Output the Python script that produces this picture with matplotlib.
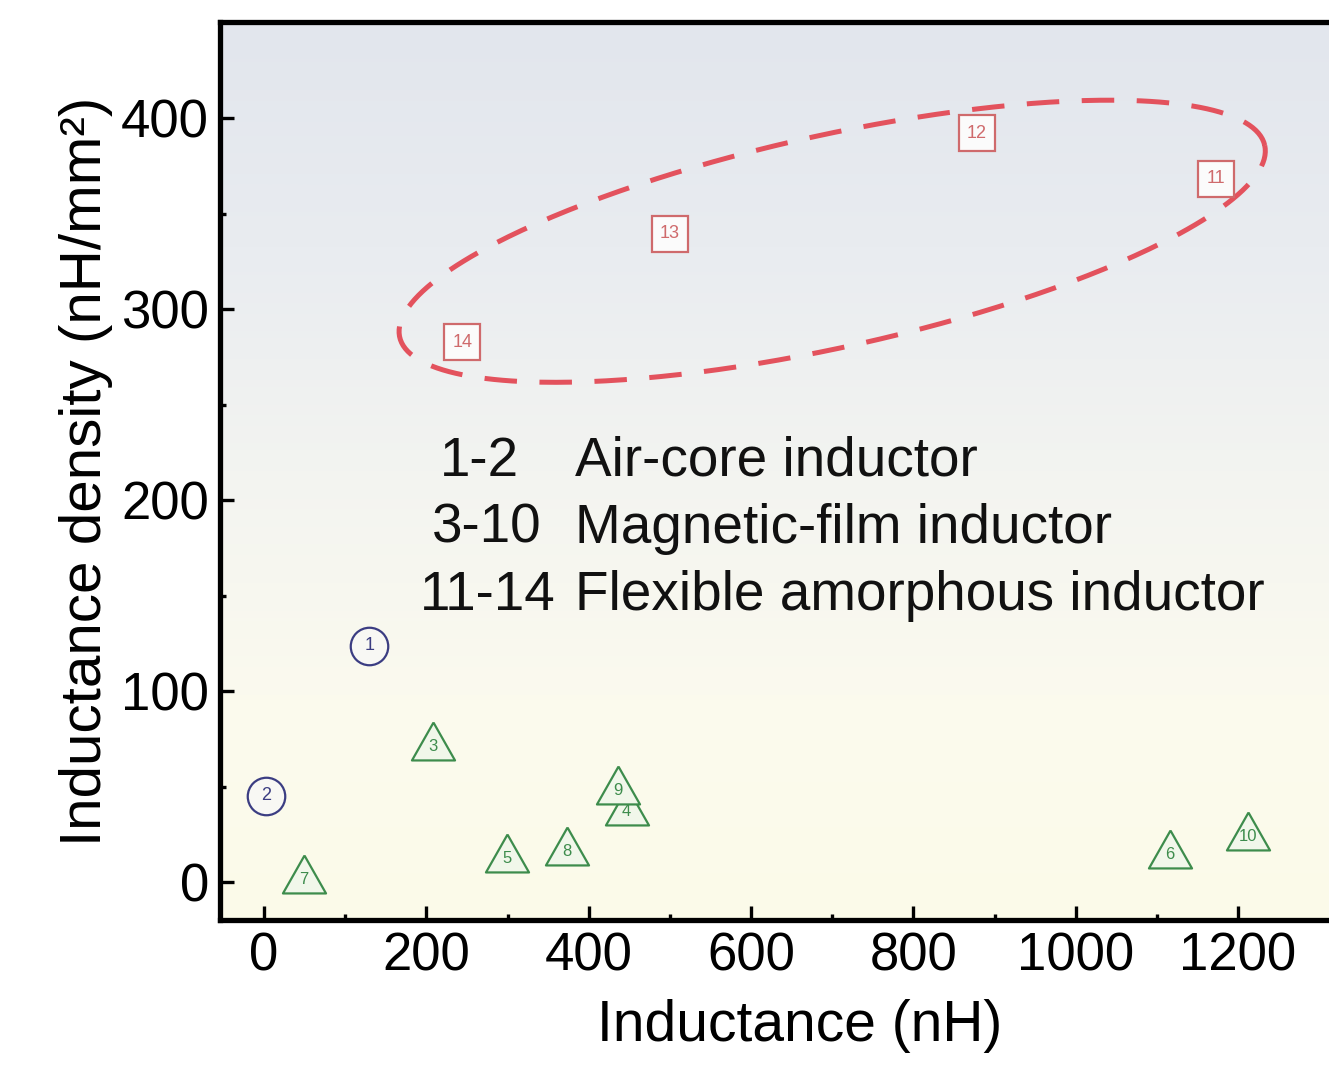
import numpy as np
import matplotlib
matplotlib.use("Agg")
import matplotlib.pyplot as plt
from matplotlib.colors import LinearSegmentedColormap

# ---------------- data ----------------
air_ids = ["1", "2"]
air_L = [129.6, 2.7]
air_D = [123.8, 45.1]

mag_ids = ["3", "4", "5", "6", "7", "8", "9", "10"]
mag_L = [207.6, 446.8, 299.8, 1116.0, 49.3, 372.9, 436.5, 1211.8]
mag_D = [73.6, 40.0, 15.3, 17.3, 4.2, 18.8, 50.8, 26.5]

flex_ids = ["11", "12", "13", "14"]
flex_L = [1172.4, 878.4, 500.2, 244.5]
flex_D = [368.2, 392.1, 339.4, 282.5]

legend_ranges = ["1-2", "3-10", "11-14"]
legend_names = ["Air-core inductor", "Magnetic-film inductor", "Flexible amorphous inductor"]

x_ticks = [0, 200, 400, 600, 800, 1000, 1200]
y_ticks = [0, 100, 200, 300, 400]

# ---------------- style ----------------
plt.rcParams["font.family"] = ["Liberation Sans", "DejaVu Sans"]
FIG_W, FIG_H, DPI = 1329, 1072, 100

fig = plt.figure(figsize=(FIG_W / DPI, FIG_H / DPI), dpi=DPI)
fig.patch.set_facecolor("white")

ax_left, ax_right, ax_bottom, ax_top = 220, 1340, 920, 22
ax = fig.add_axes([ax_left / FIG_W, (FIG_H - ax_bottom) / FIG_H,
                   (ax_right - ax_left) / FIG_W, (ax_bottom - ax_top) / FIG_H])
ax.set_xlim(-54.2, 1325.6)
ax.set_ylim(-19.9, 450.3)

# background gradient
cmap = LinearSegmentedColormap.from_list(
    "bg", [(0.0, "#fcfbe9"), (0.25, "#fbfaee"), (0.5, "#f3f4f1"), (0.75, "#e9ecf0"), (1.0, "#e2e6ed")])
grad = np.linspace(0, 1, 256).reshape(-1, 1)
ax.imshow(grad, extent=[0, 1, 0, 1], transform=ax.transAxes, origin="lower",
          aspect="auto", cmap=cmap, zorder=0, interpolation="bicubic")

# dashed ellipse around flexible inductors (defined in screen-like space, mapped to data units)
sx = (1238 - 264) / 1200.0   # px per nH
sy = (882 - 118) / 400.0     # px per nH/mm2
ell_cx, ell_cy = 700.0, 335.5
ell_a, ell_b, ell_ang = 443.0, 106.0, np.deg2rad(12.5)
t = np.linspace(0, 2 * np.pi, 400)
ex = ell_a * np.cos(t) * np.cos(ell_ang) - ell_b * np.sin(t) * np.sin(ell_ang)
ey = ell_a * np.cos(t) * np.sin(ell_ang) + ell_b * np.sin(t) * np.cos(ell_ang)
ax.plot(ell_cx + ex / sx, ell_cy + ey / sy, color="#e3525d", lw=3.6,
        dashes=(6.5, 4.5), zorder=2, dash_capstyle="butt")

# markers
circ_c = "#3b3d82"
tri_c = "#3d8c4c"
sq_c = "#cf6a6c"
tri_marker = [(0, 0.88), (-1, -0.88), (1, -0.88), (0, 0.88)]

ax.plot(air_L, air_D, ls="none", marker="o", ms=27, mfc="#f8f8f4", mec=circ_c, mew=1.6, zorder=3)
for i, x, y in zip(air_ids, air_L, air_D):
    ax.annotate(i, (x, y), ha="center", va="center", fontsize=13, color=circ_c, zorder=4)

for i, x, y in zip(mag_ids, mag_L, mag_D):
    ax.plot([x], [y], ls="none", marker=tri_marker, ms=31, mfc="#f1f7ea", mec=tri_c, mew=1.6, zorder=3)
    ax.annotate(i, (x, y), xytext=(0, -4), textcoords="offset points",
                ha="center", va="center", fontsize=12, color=tri_c, zorder=3)

ax.plot(flex_L, flex_D, ls="none", marker="s", ms=26, mfc="#fbfbfb", mec=sq_c, mew=1.6, zorder=3)
for i, x, y in zip(flex_ids, flex_L, flex_D):
    ax.annotate(i, (x, y), ha="center", va="center", fontsize=13, color=sq_c, zorder=4)

# legend-like text block
num_x = [217, 207, 192]
name_x = 383
line_y = [220, 185, 150]
for r, n, nx, ly in zip(legend_ranges, legend_names, num_x, line_y):
    ax.text(nx, ly, r, fontsize=39.5, ha="left", va="center", color="#111111", zorder=5)
    ax.text(name_x, ly, n, fontsize=39.5, ha="left", va="center", color="#111111", zorder=5)

# axes styling
for side in ["left", "bottom", "top"]:
    ax.spines[side].set_linewidth(3.8)
    ax.spines[side].set_color("black")
ax.spines["right"].set_visible(False)

ax.set_xticks(x_ticks)
ax.set_yticks(y_ticks)
ax.set_xticks(np.arange(100, 1300, 200), minor=True)
ax.set_yticks(np.arange(50, 450, 100), minor=True)
ax.tick_params(which="major", direction="in", length=10, width=2.4, labelsize=38, top=False, right=False)
ax.tick_params(which="minor", direction="in", length=4, width=2.4, top=False, right=False)
ax.tick_params(axis="x", which="major", pad=8)
ax.tick_params(axis="y", which="major", pad=8)

ax.set_xlabel("Inductance (nH)", fontsize=41, labelpad=0)
ax.xaxis.set_label_coords((800 - ax_left) / (ax_right - ax_left), -0.088)
ax.set_ylabel("Inductance density (nH/mm²)", fontsize=42, labelpad=6)

fig.savefig("out.png", dpi=DPI, facecolor=fig.get_facecolor())
